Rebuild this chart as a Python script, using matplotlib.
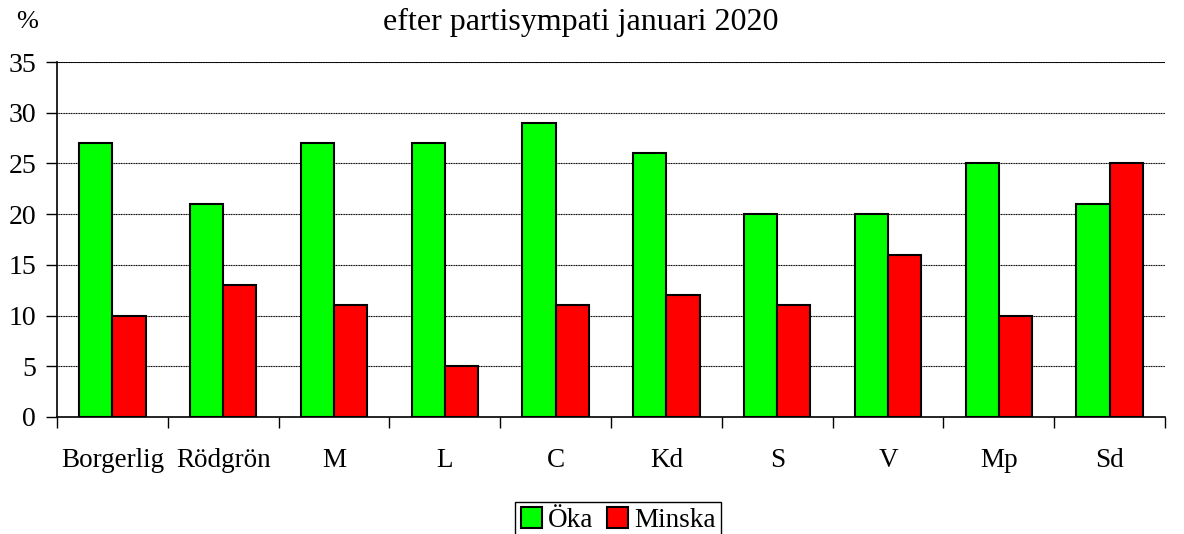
import numpy as np
import matplotlib.pyplot as plt

# values
categories = ["Borgerlig", "Rödgrön", "M", "L", "C", "Kd", "S", "V", "Mp", "Sd"]
oka = [27, 21, 27, 27, 29, 26, 20, 20, 25, 21]
minska = [10, 13, 11, 5, 11, 12, 11, 16, 10, 25]

plt.rcParams["font.family"] = ["Liberation Serif", "DejaVu Serif"]
plt.rcParams["font.size"] = 19.5

fig = plt.figure(figsize=(11.84, 5.34), dpi=100)
ax = fig.add_axes([57 / 1184, 1 - 417 / 534, (1165 - 57) / 1184, (417 - 62) / 534])

x = np.arange(len(categories))
w = 0.3
ax.bar(x - w / 2, oka, w, color="#00ff00", edgecolor="black", linewidth=1.5, label="Öka", zorder=3)
ax.bar(x + w / 2, minska, w, color="#ff0000", edgecolor="black", linewidth=1.5, label="Minska", zorder=3)

ax.set_xlim(-0.5, len(categories) - 0.5)
ax.set_ylim(0, 35)
ax.set_yticks(range(0, 36, 5))
ax.yaxis.grid(True, color="black", linewidth=0.8, linestyle=(0, (1, 0.5)), zorder=0)
ax.axhline(35, color="black", linewidth=1.2, zorder=1)

# ticks between categories, labels at centres
ax.set_xticks(np.arange(-0.5, len(categories)), minor=False)
ax.set_xticklabels([])
ax.set_xticks(x, minor=True)
ax.set_xticklabels(categories, minor=True)
ax.tick_params(axis="x", which="major", length=8, direction="out", width=1)
ax.tick_params(axis="x", which="minor", length=0, pad=22)
ax.tick_params(axis="y", length=8, direction="out", width=1, pad=7, labelsize=20)

for side in ["top", "right"]:
    ax.spines[side].set_visible(False)
ax.spines["left"].set_linewidth(1.2)
ax.spines["bottom"].set_linewidth(1.2)

fig.text(581 / 1184, 1 - 22 / 534, "efter partisympati januari 2020", ha="center", va="center", fontsize=23)
fig.text(27 / 1184, 1 - 22 / 534, "%", ha="center", va="center", fontsize=19)

leg = fig.legend(loc="center", bbox_to_anchor=(618 / 1184, 1 - 520 / 534), ncol=2,
                 frameon=True, fancybox=False, edgecolor="black", framealpha=1,
                 handlelength=0.8, handleheight=0.8, handletextpad=0.2, columnspacing=0.5,
                 borderpad=0.2, borderaxespad=0)
leg.get_frame().set_linewidth(1)

fig.savefig("out.png", dpi=100)
